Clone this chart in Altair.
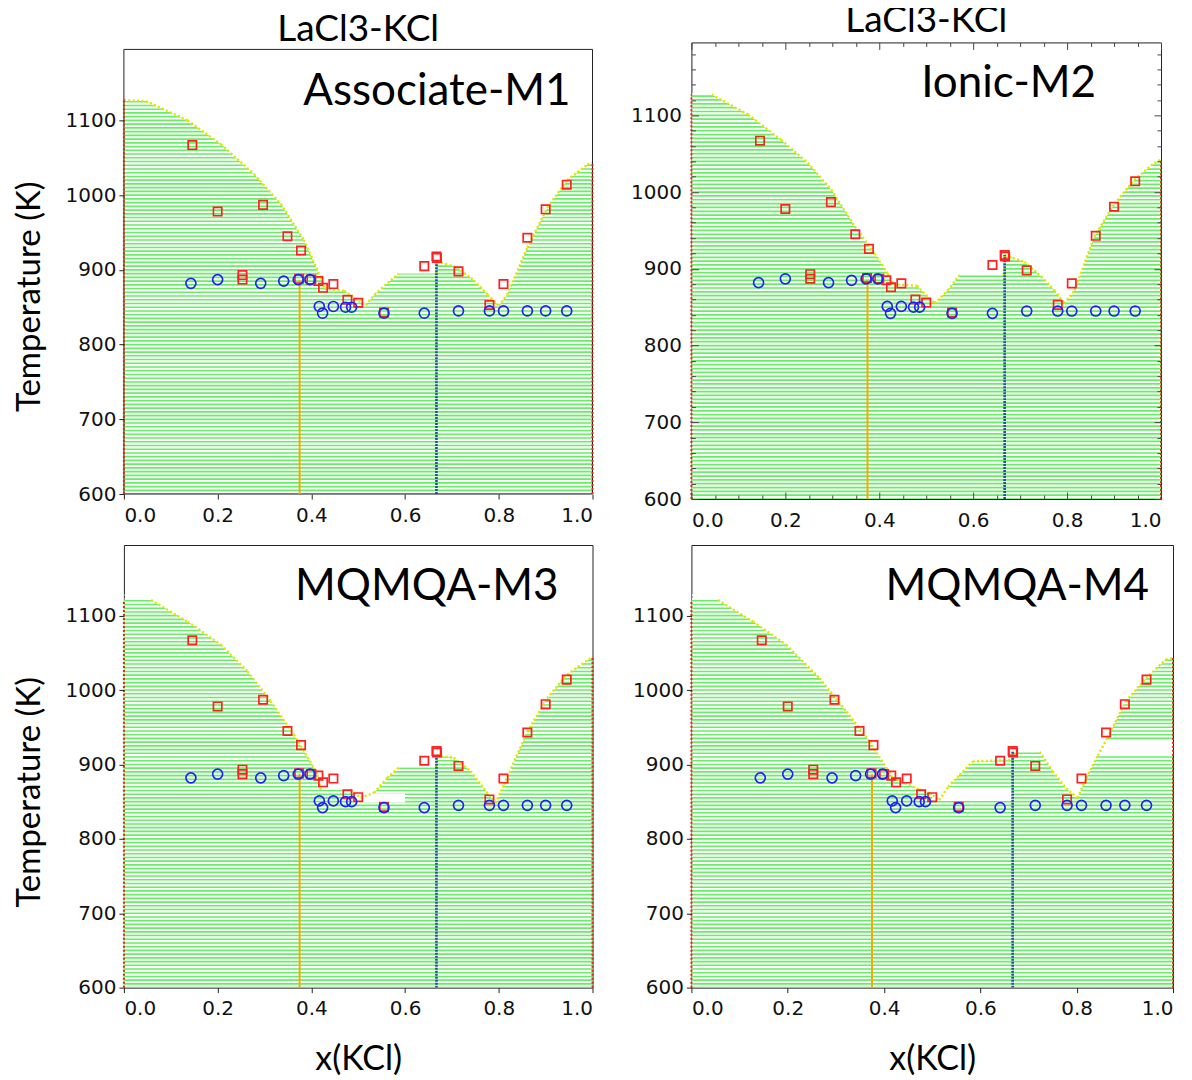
import altair as alt
import pandas as pd

# ---------------- data ----------------
SYSTEM = "LaCl3-KCl"
MODELS = ["Associate-M1", "Ionic-M2", "MQMQA-M3", "MQMQA-M4"]

# computed liquidus (upper boundary of the hatched region), x(KCl) / T(K)
LIQ_X_M1 = [0.0, 0.047, 0.136, 0.207, 0.278, 0.335, 0.384, 0.420, 0.428, 0.470, 0.516,
            0.535, 0.586, 0.666, 0.668, 0.711, 0.747, 0.776, 0.800, 0.818, 0.861, 0.904,
            0.946, 0.989, 1.0]
LIQ_T_M1 = [1127, 1126, 1100, 1068, 1028, 988, 940, 890, 875, 872, 853,
            867, 895, 895, 912, 903, 886, 867, 852, 867, 930, 984,
            1020, 1041, 1043]

LIQ_X_M2 = [0.0, 0.043, 0.121, 0.191, 0.248, 0.298, 0.348, 0.390, 0.418, 0.430, 0.480,
            0.518, 0.546, 0.571, 0.665, 0.667, 0.709, 0.745, 0.773, 0.794, 0.816, 0.858,
            0.901, 0.943, 0.986, 1.0]
LIQ_T_M2 = [1127, 1127, 1101, 1068, 1038, 1003, 955, 920, 894, 880, 878,
            855, 872, 892, 892, 918, 909, 890, 872, 855, 872, 942,
            985, 1016, 1038, 1042]

LIQ_X_M3 = [0.0, 0.058, 0.136, 0.207, 0.264, 0.313, 0.363, 0.406, 0.413, 0.420, 0.484,
            0.505, 0.534, 0.562, 0.587, 0.666, 0.668, 0.704, 0.740, 0.768, 0.793, 0.811,
            0.861, 0.903, 0.946, 0.996, 1.0]
LIQ_T_M3 = [1121, 1121, 1092, 1061, 1025, 985, 940, 895, 886, 866, 866,
            855, 862, 882, 896, 896, 912, 909, 891, 868, 848, 873,
            944, 989, 1021, 1043, 1043]

LIQ_X_M4 = [0.0, 0.055, 0.128, 0.197, 0.266, 0.322, 0.370, 0.405, 0.418, 0.474, 0.494,
            0.515, 0.533, 0.557, 0.584, 0.666, 0.668, 0.723, 0.750, 0.778, 0.802, 0.820,
            0.844, 0.864, 0.902, 0.944, 0.985, 1.0]
LIQ_T_M4 = [1121, 1121, 1092, 1061, 1016, 971, 931, 895, 882, 866, 862,
            852, 870, 886, 904, 906, 917, 917, 891, 868, 855, 882,
            912, 936, 985, 1016, 1041, 1043]

# unhatched bands inside the hatched region
GAP_X0_M3 = [0.49]
GAP_X1_M3 = [0.60]
GAP_T0_M3 = [849]
GAP_T1_M3 = [861]
GAP_X0_M4 = [0.50, 0.84]
GAP_X1_M4 = [0.665, 1.0]
GAP_T0_M4 = [851, 913]
GAP_T1_M4 = [869, 933]

# compound lines (orange x=3/8, blue x=2/3) and their top temperatures
ORANGE_X = 0.375
BLUE_X = 0.667
ORANGE_TOP = [886, 886, 887, 887]
BLUE_TOP = [912, 918, 912, 917]

# experimental points
SQ_X = [0.146, 0.200, 0.297, 0.349, 0.378, 0.253, 0.253, 0.374, 0.400, 0.415, 0.425,
        0.447, 0.477, 0.500, 0.555, 0.641, 0.667, 0.668, 0.714, 0.780, 0.810, 0.861,
        0.900, 0.945]
SQ_T = [1067, 978, 987, 945, 926, 893, 887, 888, 887, 885, 876,
        881, 860, 856, 843, 905, 918, 916, 898, 853, 881, 943,
        981, 1014]
CI_X = [0.143, 0.200, 0.292, 0.341, 0.372, 0.397, 0.417, 0.424, 0.447, 0.473, 0.486,
        0.555, 0.641, 0.714, 0.780, 0.810, 0.861, 0.900, 0.945]
CI_T = [882, 887, 882, 885, 887, 887, 851, 842, 851, 850, 850,
        842, 842, 845, 845, 845, 845, 845, 845]

X_TICKS = [0.0, 0.2, 0.4, 0.6, 0.8, 1.0]
Y_TICKS = [600, 700, 800, 900, 1000, 1100]
X_MINOR = [0.05, 0.1, 0.15, 0.25, 0.3, 0.35, 0.45, 0.5, 0.55, 0.65, 0.7, 0.75,
           0.85, 0.9, 0.95]
Y_MINOR = [620, 640, 660, 680, 720, 740, 760, 780, 820, 840, 860, 880, 920, 940, 960,
           980, 1020, 1040, 1060, 1080, 1120, 1140, 1160, 1180]

# ---------------- style ----------------
GREEN = "#66ee66"
YELLOW = "#e2e400"
FRAME = "#222"
TFONT = "Lato"
LFONT = "DejaVu Sans"
T_MIN, T_MAX = 600, 1195
STRIPES = [602.5 + 5 * k for k in range(106)]


def sloped_segments(xs_, ts_):
    """Consecutive liquidus point pairs that are not flat (the dotted boundary)."""
    rows = []
    for k in range(len(xs_) - 1):
        if ts_[k] != ts_[k + 1]:
            rows.append({"x": xs_[k], "T": ts_[k], "seg": k})
            rows.append({"x": xs_[k + 1], "T": ts_[k + 1], "seg": k})
    return pd.DataFrame(rows)


def panel(i, liq_x, liq_t, gx0, gx1, gt0, gt1, w, h, boxed, title_y, y_title, x_title,
          label_x, label_y, y_top=T_MAX, own_frame=False, ytitle_y=247):
    xs = alt.Scale(domain=[0, 1], nice=False, zero=False)
    ys = alt.Scale(domain=[T_MIN, y_top], nice=False, zero=False)
    X = alt.X("x:Q", scale=xs, axis=None)
    Y = alt.Y("T:Q", scale=ys, axis=None)
    liq = pd.DataFrame({"x": liq_x, "T": liq_t})

    layers = []
    layers.append(alt.Chart(liq).mark_area(color=GREEN, interpolate="linear")
                  .encode(x=X, y=Y, y2=alt.Y2(datum=T_MIN)))
    sdf = pd.DataFrame({"T": STRIPES, "x": [0.0015] * len(STRIPES),
                        "x1": [0.9985] * len(STRIPES)})
    layers.append(alt.Chart(sdf).mark_rule(color="white", strokeWidth=2.1)
                  .encode(y=Y, x=X, x2="x1:Q"))
    if gx0:
        gdf = pd.DataFrame({"x": gx0, "x1": gx1, "T": gt0, "T1": gt1})
        layers.append(alt.Chart(gdf).mark_rect(color="white")
                      .encode(x=X, x2="x1:Q", y=Y, y2="T1:Q"))
    layers.append(alt.Chart(sloped_segments(liq_x, liq_t))
                  .mark_line(color=YELLOW, strokeWidth=2.4, strokeDash=[2, 2.4])
                  .encode(x=X, y=Y, detail="seg:N"))
    if own_frame:
        hf = pd.DataFrame({"x": [0.0, 0.0], "x1": [1.0, 1.0], "T": [T_MIN, T_MAX]})
        vf = pd.DataFrame({"x": [0.0, 1.0], "T": [T_MIN, T_MIN], "T1": [T_MAX, T_MAX]})
        layers.append(alt.Chart(hf).mark_rule(color=FRAME, strokeWidth=1)
                      .encode(x=X, x2="x1:Q", y=Y))
        layers.append(alt.Chart(vf).mark_rule(color=FRAME, strokeWidth=1)
                      .encode(x=X, y=Y, y2="T1:Q"))
    # vertical compound lines
    odf = pd.DataFrame({"x": [ORANGE_X], "T": [T_MIN], "T1": [ORANGE_TOP[i]]})
    layers.append(alt.Chart(odf).mark_rule(color="#f5aa00", strokeWidth=2)
                  .encode(x=X, y=Y, y2="T1:Q"))
    bdf = pd.DataFrame({"x": [BLUE_X], "T": [T_MIN], "T1": [BLUE_TOP[i]]})
    layers.append(alt.Chart(bdf).mark_rule(color="#1d4f9a", strokeWidth=2.6,
                                           strokeDash=[2, 1])
                  .encode(x=X, y=Y, y2="T1:Q"))
    rdf = pd.DataFrame({"x": [0.0, 1.0], "T": [T_MIN, T_MIN],
                        "T1": [liq_t[0], liq_t[-1]]})
    layers.append(alt.Chart(rdf).mark_rule(color="#e8231a", strokeWidth=2,
                                           strokeDash=[2, 2])
                  .encode(x=X, y=Y, y2="T1:Q"))
    # experimental data
    layers.append(alt.Chart(pd.DataFrame({"x": SQ_X, "T": SQ_T}))
                  .mark_point(shape="square", filled=False, color="#ff2020",
                              size=70, strokeWidth=1.7, opacity=1)
                  .encode(x=X, y=Y))
    layers.append(alt.Chart(pd.DataFrame({"x": CI_X, "T": CI_T}))
                  .mark_point(shape="circle", filled=False, color="#2020ff",
                              size=100, strokeWidth=1.7, opacity=1)
                  .encode(x=X, y=Y))
    # model label
    layers.append(alt.Chart(pd.DataFrame({"t": [MODELS[i]]}))
                  .mark_text(font=TFONT, fontSize=44, align="right", baseline="alphabetic",
                             color="black")
                  .encode(text="t:N", x=alt.value(label_x), y=alt.value(label_y)))
    # system title above the frame
    if title_y is not None:
        layers.append(alt.Chart(pd.DataFrame({"t": [SYSTEM]}))
                      .mark_text(font=TFONT, fontSize=37, align="center",
                                 baseline="alphabetic", color="black")
                      .encode(text="t:N", x=alt.value(w / 2), y=alt.value(title_y)))

    common = dict(grid=False, domain=False, labelFont=LFONT, labelFontSize=20,
                  labelColor="#111", tickColor="#222", tickWidth=1, zindex=1,
                  titleFont=TFONT, titleFontWeight="normal", titleColor="black")
    if boxed:
        xa = alt.Axis(orient="bottom", values=X_TICKS, format=".1f", ticks=False,
                      tickSize=0, labelPadding=11, title=None, **common)
        ya = alt.Axis(orient="left", values=Y_TICKS, format="d", ticks=False, tickSize=0,
                      labelPadding=10, title=None, **common)
    else:
        xt = dict(title=x_title, titleFontSize=34, titleY=82,
                  titleBaseline="alphabetic") if x_title else dict(title=None)
        yt = dict(title=y_title, titleFontSize=33, titleX=-84, titleY=ytitle_y,
                  titleAngle=-90, titleAlign="center",
                  titleBaseline="alphabetic") if y_title else dict(title=None)
        xa = alt.Axis(orient="bottom", values=X_TICKS, format=".1f", tickSize=5,
                      labelPadding=6, **xt, **common)
        ya = alt.Axis(orient="left", values=Y_TICKS, format="d", tickSize=5,
                      labelPadding=3, **yt, **common)
    layers.append(alt.Chart(liq).mark_point(opacity=0)
                  .encode(x=alt.X("x:Q", scale=xs, axis=xa),
                          y=alt.Y("T:Q", scale=ys, axis=ya)))
    if boxed:
        tick = dict(labels=False, domain=False, grid=False, tickColor="#444",
                    tickWidth=1, zindex=1, title=None)
        for xo, yo in (("bottom", "left"), ("top", "right")):
            for vals_x, vals_y, size in ((X_TICKS, Y_TICKS, 7), (X_MINOR, Y_MINOR, 4)):
                layers.append(
                    alt.Chart(liq).mark_point(opacity=0).encode(
                        x=alt.X("x:Q", scale=xs,
                                axis=alt.Axis(orient=xo, values=vals_x, tickSize=size,
                                              offset=-size, **tick)),
                        y=alt.Y("T:Q", scale=ys,
                                axis=alt.Axis(orient=yo, values=vals_y, tickSize=size,
                                              offset=-size, **tick))))

    ch = alt.layer(*layers).properties(width=w, height=h)
    if own_frame:
        ch = ch.properties(view=alt.ViewBackground(stroke="transparent"))
    ch = ch.resolve_axis(x="independent", y="independent")
    return ch


# top-left panel: view starts 7 px higher than its frame so that both top frames
# sit where the reference has them
p1 = panel(0, LIQ_X_M1, LIQ_T_M1, [], [], [], [], 469, 452, False, -1,
           "Temperature (K)", None, 447, 63, y_top=T_MAX + 7 / 0.748, own_frame=True,
           ytitle_y=254)
p2 = panel(1, LIQ_X_M2, LIQ_T_M2, [], [], [], [], 470, 457, True, -10,
           None, None, 405, 55)
p3 = panel(2, LIQ_X_M3, LIQ_T_M3, GAP_X0_M3, GAP_X1_M3, GAP_T0_M3, GAP_T1_M3,
           469, 443, False, None, "Temperature (K)", "x(KCl)", 435, 55)
p4 = panel(3, LIQ_X_M4, LIQ_T_M4, GAP_X0_M4, GAP_X1_M4, GAP_T0_M4, GAP_T1_M4,
           482, 443, False, None, None, "x(KCl)", 458, 55)

chart = (alt.concat(p1, p2, p3, p4, columns=2, spacing={"row": 13, "column": 31})
         .properties(padding={"left": 5, "top": -7, "right": 5, "bottom": 5},
                     background="white")
         .configure_view(stroke=FRAME, strokeWidth=1))

chart.save("out.html", embed_options={"renderer": "svg", "actions": False})
